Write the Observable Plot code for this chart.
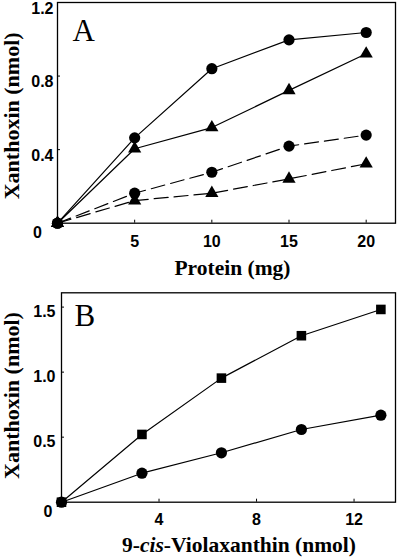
<!DOCTYPE html>
<html><head><meta charset="utf-8">
<script src="https://cdn.jsdelivr.net/npm/d3@7"></script>
<script src="https://cdn.jsdelivr.net/npm/@observablehq/plot@0.6"></script>
<style>body{margin:0;background:#fff} #chart svg{display:block}</style>
</head><body><div id="chart"></div>
<script>
// ---- Panel A data ----
const proteinMg = [0, 5, 10, 15, 20];
const solidCircleA = [0, 0.464, 0.840, 0.997, 1.037];
const solidTriangleA = [0, 0.405, 0.520, 0.722, 0.921];
const dashedCircleA = [0, 0.163, 0.277, 0.419, 0.479];
const dashedTriangleA = [0, 0.123, 0.163, 0.241, 0.323];
const xTicksA = [5, 10, 15, 20];
const yTicksA = [0.4, 0.8, 1.2];

// ---- Panel B data ----
const violaxanthin = [0, 3.3, 6.56, 9.84, 13.1];
const squareB = [0, 0.521, 0.954, 1.28, 1.482];
const circleB = [0, 0.223, 0.380, 0.559, 0.669];
const xTicksB = [4, 8, 12];
const yTicksB = [0.5, 1.0, 1.5];

const sans = "Liberation Sans, Arial, sans-serif";
const serif = "Liberation Serif, Times New Roman, serif";
const tickFont = {fontFamily: sans, fontSize: 16, fontWeight: "bold", fill: "black"};
const rows = (xs, ys) => xs.map((x, i) => ({x, y: ys[i]}));

function series(data, symbol, r, dashed) {
  return [
    Plot.line(data, {x: "x", y: "y", stroke: "black", strokeWidth: 1.2,
      strokeDasharray: dashed ? "14,6" : null}),
    Plot.dot(data, {x: "x", y: "y", symbol, r, fill: "black", stroke: "none"})
  ];
}

const W = 400, H = 280;
const titleFont = {fontFamily: serif, fontWeight: "bold", fill: "black", textAnchor: "middle", lineAnchor: "bottom"};

// Panel A
const mA = {left: 57, right: 5, top: 2, bottom: 57.3};
const plotA = Plot.plot({
  width: W, height: H,
  marginLeft: mA.left, marginRight: mA.right, marginTop: mA.top, marginBottom: mA.bottom,
  x: {domain: [0, 21.9]},
  y: {domain: [0, 1.2]},
  style: {background: "white", color: "black"},
  marks: [
    Plot.frame({stroke: "black", strokeWidth: 1.3}),
    Plot.tickY(yTicksA, {y: d => d, stroke: "black", insetRight: W - mA.left - mA.right - 3}),
    Plot.tickX(xTicksA, {x: d => d, stroke: "black", insetTop: H - mA.top - mA.bottom - 3}),
    Plot.axisX(xTicksA, {tickSize: 0, tickPadding: 12.3, label: null, ...tickFont}),
    Plot.axisY(yTicksA, {tickSize: 0, tickPadding: 4, dy: 6, label: null, ...tickFont}),
    Plot.text(["0"], {frameAnchor: "bottom-left", dx: -20, dy: 9.5, textAnchor: "middle", lineAnchor: "middle", ...tickFont}),
    ...series(rows(proteinMg, solidCircleA), "circle", 5.6, false),
    ...series(rows(proteinMg, solidTriangleA), "triangle", 4.9, false),
    ...series(rows(proteinMg, dashedCircleA), "circle", 5.6, true),
    ...series(rows(proteinMg, dashedTriangleA), "triangle", 4.9, true),
    Plot.text(["A"], {frameAnchor: "top-left", dx: 15, dy: 38.7, textAnchor: "start",
      lineAnchor: "bottom", fontFamily: serif, fontSize: 31, fill: "black"}),
    Plot.text(["Xanthoxin (nmol)"], {frameAnchor: "left", rotate: -90, dx: -38.7, dy: 3,
      fontSize: 22, ...titleFont}),
    Plot.text(["Protein (mg)"], {frameAnchor: "bottom", dx: 6, dy: 51.3,
      fontSize: 21.5, ...titleFont})
  ]
});

// Panel B
const mB = {left: 61, right: 5, top: 12.3, bottom: 58.3};
const plotB = Plot.plot({
  width: W, height: H,
  marginLeft: mB.left, marginRight: mB.right, marginTop: mB.top, marginBottom: mB.bottom,
  x: {domain: [0, 13.7]},
  y: {domain: [0, 1.61]},
  style: {background: "white", color: "black"},
  marks: [
    Plot.frame({stroke: "black", strokeWidth: 1.3}),
    Plot.tickY(yTicksB, {y: d => d, stroke: "black", insetRight: W - mB.left - mB.right - 3}),
    Plot.tickX(xTicksB, {x: d => d, stroke: "black", insetTop: H - mB.top - mB.bottom - 3}),
    Plot.axisX(xTicksB, {tickSize: 0, tickPadding: 11, label: null, ...tickFont}),
    Plot.axisY(yTicksB, {tickSize: 0, tickPadding: 6, dy: 5, label: null, tickFormat: d3.format(".1f"), ...tickFont}),
    Plot.text(["0"], {frameAnchor: "bottom-left", dx: -13.5, dy: 10, textAnchor: "middle", lineAnchor: "middle", ...tickFont}),
    ...series(rows(violaxanthin, squareB), "square", 5.4, false),
    ...series(rows(violaxanthin, circleB), "circle", 5.6, false),
    Plot.text(["B"], {frameAnchor: "top-left", dx: 13, dy: 33.4, textAnchor: "start",
      lineAnchor: "bottom", fontFamily: serif, fontSize: 31, fill: "black"}),
    Plot.text(["Xanthoxin (nmol)"], {frameAnchor: "left", rotate: -90, dx: -42.7, dy: -2,
      fontSize: 22, ...titleFont})
  ]
});

const chart = document.getElementById("chart");
chart.appendChild(plotA);
chart.appendChild(plotB);

// x title for B with italic "cis" via tspans
const svgB = d3.select(plotB);
const tx = (mB.left + (W - mB.right)) / 2 + 11;
const ty = H - mB.bottom + 50.3;
const t = svgB.append("text")
  .attr("x", tx).attr("y", ty)
  .attr("text-anchor", "middle")
  .attr("font-family", serif).attr("font-size", 21.5).attr("font-weight", "bold")
  .attr("fill", "black");
t.append("tspan").text("9-");
t.append("tspan").attr("font-style", "italic").text("cis");
t.append("tspan").text("-Violaxanthin (nmol)");
</script></body></html>
